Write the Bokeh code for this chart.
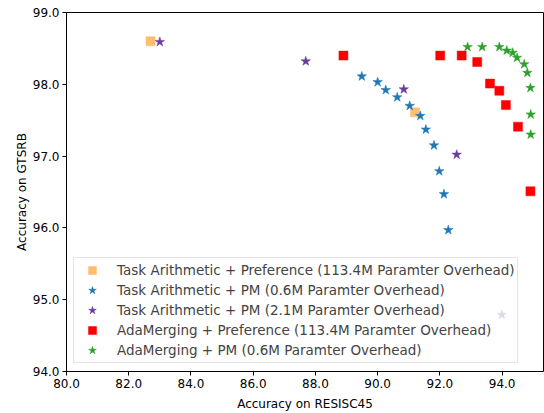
from bokeh.plotting import figure
from bokeh.models import FixedTicker, PrintfTickFormatter, Legend, LegendItem, Range1d
from bokeh.embed import file_html
from bokeh.resources import INLINE

# Task Arithmetic + Preference (113.4M)
ta_pref_x = [82.70, 91.20]
ta_pref_y = [98.60, 97.61]

# Task Arithmetic + PM (0.6M)
ta_pm06_x = [89.49, 90.00, 90.26, 90.63, 91.03, 91.37, 91.55, 91.81, 91.98, 92.13, 92.27]
ta_pm06_y = [98.11, 98.03, 97.92, 97.82, 97.70, 97.56, 97.37, 97.15, 96.79, 96.47, 95.97]

# Task Arithmetic + PM (2.1M)
ta_pm21_x = [83.00, 87.69, 90.84, 92.54, 93.99]
ta_pm21_y = [98.59, 98.32, 97.93, 97.02, 94.79]

# AdaMerging + Preference (113.4M)
ada_pref_x = [88.90, 92.01, 92.70, 93.20, 93.61, 93.91, 94.12, 94.51, 94.91]
ada_pref_y = [98.40, 98.40, 98.40, 98.31, 98.01, 97.91, 97.71, 97.41, 96.51]

# AdaMerging + PM (0.6M)
ada_pm_x = [92.89, 93.36, 93.91, 94.15, 94.34, 94.48, 94.71, 94.81, 94.91, 94.92, 94.92]
ada_pm_y = [98.52, 98.52, 98.52, 98.47, 98.44, 98.37, 98.28, 98.16, 97.95, 97.58, 97.30]

labels = [
    "Task Arithmetic + Preference (113.4M Paramter Overhead)",
    "Task Arithmetic + PM (0.6M Paramter Overhead)",
    "Task Arithmetic + PM (2.1M Paramter Overhead)",
    "AdaMerging + Preference (113.4M Paramter Overhead)",
    "AdaMerging + PM (0.6M Paramter Overhead)",
]
x_ticks = [80, 82, 84, 86, 88, 90, 92, 94]
y_ticks = [94, 95, 96, 97, 98, 99]

FONT = "DejaVu Sans"

p = figure(width=544, height=413, output_backend="svg", toolbar_location=None,
           x_range=Range1d(80, 95.33), y_range=Range1d(94, 99),
           min_border_left=66, min_border_right=1, min_border_top=12, min_border_bottom=40)
p.xgrid.visible = False
p.ygrid.visible = False
p.outline_line_color = "black"
p.outline_line_alpha = 1
p.outline_line_width = 1

series = [
    (ta_pref_x, ta_pref_y, "square", "#fdbf6f", 9),
    (ta_pm06_x, ta_pm06_y, "star", "#1f77b4", 10),
    (ta_pm21_x, ta_pm21_y, "star", "#6a3d9a", 10),
    (ada_pref_x, ada_pref_y, "square", "#ff0000", 9),
    (ada_pm_x, ada_pm_y, "star", "#2ca02c", 10),
]
items = []
for (xs, ys, mk, col, sz), lab in zip(series, labels):
    r = p.scatter(xs, ys, marker=mk, size=sz, fill_color=col, line_color=col, line_width=0.5)
    items.append(LegendItem(label=lab, renderers=[r]))

for ax, ticks in ((p.xaxis[0], x_ticks), (p.yaxis[0], y_ticks)):
    ax.ticker = FixedTicker(ticks=ticks)
    ax.formatter = PrintfTickFormatter(format="%.1f")
    ax.minor_tick_line_color = None
    ax.major_tick_in = 0
    ax.major_tick_out = 4
    ax.major_label_text_font = FONT
    ax.major_label_text_font_size = "12px"
    ax.major_label_text_color = "black"
    ax.axis_label_text_font = FONT
    ax.axis_label_text_font_size = "12px"
    ax.axis_label_text_font_style = "normal"
    ax.axis_label_text_color = "black"
    ax.axis_line_color = "black"
    ax.major_tick_line_color = "black"

p.xaxis.axis_label = "Accuracy on RESISC45"
p.yaxis.axis_label = "Accuracy on GTSRB"
p.xaxis.axis_label_standoff = 6
p.yaxis.axis_label_standoff = 1
p.xaxis.major_label_standoff = 3
p.yaxis.major_label_standoff = 3

legend = Legend(items=items, location=(7, 8), margin=0, padding=2, spacing=0,
                label_height=20, glyph_height=20, glyph_width=32, label_standoff=9,
                label_text_font=FONT, label_text_font_size="13.5px",
                border_line_color="#cccccc", border_line_width=1,
                background_fill_color="white", background_fill_alpha=0.8)
p.add_layout(legend)

open("out.html", "w").write(file_html(p, INLINE))
